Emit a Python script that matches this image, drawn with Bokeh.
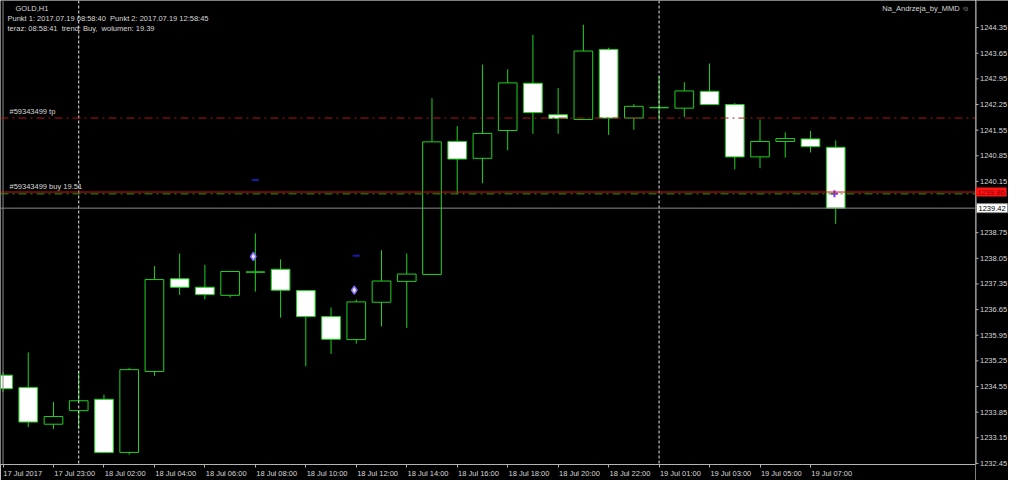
from bokeh.plotting import figure
from bokeh.layouts import row
from bokeh.models import (ColumnDataSource, LinearAxis, FixedTicker, Range1d, Span, Label)
from bokeh.core.properties import value
from bokeh.embed import file_html
from bokeh.resources import INLINE

# ---------------- data ----------------
bar_times = ["17 Jul 21:00", "17 Jul 22:00", "17 Jul 23:00",
             "18 Jul 01:00", "18 Jul 02:00", "18 Jul 03:00", "18 Jul 04:00", "18 Jul 05:00",
             "18 Jul 06:00", "18 Jul 07:00", "18 Jul 08:00", "18 Jul 09:00", "18 Jul 10:00",
             "18 Jul 11:00", "18 Jul 12:00", "18 Jul 13:00", "18 Jul 14:00", "18 Jul 15:00",
             "18 Jul 16:00", "18 Jul 17:00", "18 Jul 18:00", "18 Jul 19:00", "18 Jul 20:00",
             "18 Jul 21:00", "18 Jul 22:00", "18 Jul 23:00",
             "19 Jul 01:00", "19 Jul 02:00", "19 Jul 03:00", "19 Jul 04:00", "19 Jul 05:00",
             "19 Jul 06:00", "19 Jul 07:00", "19 Jul 08:00"]
opens = [1234.86, 1234.52, 1233.52, 1233.89, 1234.20, 1232.75, 1234.96, 1237.49, 1237.26,
         1237.04, 1237.67, 1237.75, 1237.17, 1236.46, 1235.83, 1236.85, 1237.42, 1237.61,
         1241.24, 1240.78, 1241.54, 1242.83, 1241.97, 1241.84, 1243.75, 1241.88, 1242.16,
         1242.15, 1242.61, 1242.25, 1240.82, 1241.24, 1241.31, 1241.08]
highs = [1234.95, 1235.48, 1234.13, 1234.97, 1234.33, 1235.06, 1237.84, 1238.18, 1237.87,
         1237.70, 1238.73, 1238.02, 1237.18, 1236.71, 1236.92, 1238.27, 1238.18, 1242.42,
         1241.66, 1243.34, 1243.21, 1244.15, 1242.70, 1244.43, 1243.80, 1242.26, 1243.02,
         1242.86, 1243.37, 1242.29, 1241.84, 1241.49, 1241.53, 1241.27]
lows = [1234.40, 1233.44, 1233.39, 1233.39, 1232.74, 1232.69, 1234.84, 1237.05, 1236.93,
        1236.98, 1237.14, 1236.43, 1235.10, 1235.44, 1235.72, 1236.19, 1236.15, 1237.60,
        1239.81, 1240.10, 1241.00, 1241.45, 1241.45, 1241.83, 1241.42, 1241.56, 1241.82,
        1241.91, 1242.24, 1240.48, 1240.51, 1240.80, 1240.94, 1238.99]
closes = [1234.49, 1233.58, 1233.73, 1234.16, 1232.75, 1235.01, 1237.47, 1237.26, 1237.06,
          1237.69, 1237.68, 1237.18, 1236.46, 1235.84, 1236.86, 1237.43, 1237.62, 1241.23,
          1240.76, 1241.46, 1242.84, 1242.03, 1241.87, 1243.71, 1241.88, 1242.20, 1242.17,
          1242.62, 1242.25, 1240.82, 1241.24, 1241.32, 1241.10, 1239.42]

x_tick_bars = [0, 2, 4, 6, 8, 10, 12, 14, 16, 18, 20, 22, 24, 26, 28, 30, 32]
x_tick_labels = ["17 Jul 2017", "17 Jul 23:00", "18 Jul 02:00", "18 Jul 04:00", "18 Jul 06:00",
                 "18 Jul 08:00", "18 Jul 10:00", "18 Jul 12:00", "18 Jul 14:00", "18 Jul 16:00",
                 "18 Jul 18:00", "18 Jul 20:00", "18 Jul 22:00", "19 Jul 01:00", "19 Jul 03:00",
                 "19 Jul 05:00", "19 Jul 07:00"]
y_ticks = [1232.45, 1233.15, 1233.85, 1234.55, 1235.25, 1235.95, 1236.65, 1237.35, 1238.05,
           1238.75, 1240.15, 1240.85, 1241.55, 1242.25, 1242.95, 1243.65, 1244.35]
day_separator_bars = [3, 26]

ask_price = 1239.86
bid_price = 1239.42
order_open = 1239.81
order_tp = 1241.88
order_label_tp = "#59343499 tp"
order_label_buy = "#59343499 buy 19.51"

dash_bars = [10, 14]
dash_prices = [1240.19, 1238.12]
diamond_bars = [10, 14]
diamond_prices = [1238.10, 1237.18]
plus_bars = [33]
plus_prices = [1239.81]

NB = "\u00a0"
header_lines = ["GOLD,H1",
                "Punkt 1: 2017.07.19 08:58:40" + NB + NB + "Punkt 2: 2017.07.19 12:58:45",
                "teraz: 08:58:41" + NB + NB + "trend: Buy," + NB + NB + "wolumen: 19.39"]
corner_text = "Na_Andrzeja_by_MMD \u263a"

# ---------------- style ----------------
GREEN = "#1ed21e"
FONT = "Liberation Sans"
FS = "7.5px"
TXT = "#d8d8d8"
AX = "#b4b4b4"
W, H = 1008, 480
SCALE_W = 33          # width of the price scale strip
BB = 16               # height of the time scale
FW, FH = W - SCALE_W, H - BB

X_START, X_END = -0.1, 38.54
Y_START, Y_END = 1232.42, 1245.09
units_per_px = (Y_END - Y_START) / FH

idx = list(range(len(opens)))
bull = [c >= o for o, c in zip(opens, closes)]
src = ColumnDataSource(dict(
    x=idx, o=opens, h=highs, l=lows, c=closes, t=bar_times,
    top=[max(o, c) for o, c in zip(opens, closes)],
    bot=[min(o, c) for o, c in zip(opens, closes)],
    fill=["#000000" if b else "#ffffff" for b in bull],
))

p = figure(frame_width=FW, frame_height=FH, x_range=(X_START, X_END),
           y_range=Range1d(Y_START, Y_END),
           output_backend="svg", toolbar_location=None,
           x_axis_location=None, y_axis_location=None,
           min_border_left=0, min_border_top=0, min_border_right=0, min_border_bottom=BB,
           background_fill_color="#000000", border_fill_color="#000000")
p.outline_line_color = None
p.grid.visible = False

# period separators
for b in day_separator_bars:
    p.add_layout(Span(location=b, dimension="height", line_color="#e6e6e6",
                      line_dash="3 2", line_width=1))

# left border
p.add_layout(Span(location=X_START + 0.1, dimension="height", line_color="#8c8c8c", line_width=1))

# price lines
p.add_layout(Span(location=order_tp, dimension="width", line_color="#b01414",
                  line_dash="8 4 2 4", line_width=1))
p.add_layout(Span(location=ask_price, dimension="width", line_color="#e01010", line_width=1))
p.add_layout(Span(location=order_open, dimension="width", line_color="#1ea01e",
                  line_dash="8 4 2 4", line_width=1))
p.add_layout(Span(location=bid_price, dimension="width", line_color="#8a8a8a", line_width=1))

# candles
p.segment(x0="x", y0="l", x1="x", y1="h", source=src, line_color=GREEN, line_width=1)
p.vbar(x="x", width=0.74, top="top", bottom="bot", source=src,
       fill_color="fill", line_color=GREEN, line_width=1)

# markers
p.scatter(x=dash_bars, y=dash_prices, marker="dash", size=7, line_color="#1a1aa8", line_width=2)
p.scatter(x=[b - 0.08 for b in diamond_bars], y=diamond_prices, marker="diamond", size=8,
          fill_color="#ececff", line_color="#8a6cff", line_width=1.5)
p.scatter(x=[b - 0.05 for b in plus_bars], y=plus_prices, marker="cross", size=7,
          line_color="#9a20ff", line_width=2)

# order labels
p.add_layout(Label(x=X_START, y=order_tp, x_offset=9, y_offset=2, text=order_label_tp,
                   text_font=FONT, text_font_size=FS, text_color=TXT, text_baseline="bottom"))
p.add_layout(Label(x=X_START, y=ask_price, x_offset=9, y_offset=1, text=order_label_buy,
                   text_font=FONT, text_font_size=FS, text_color=TXT, text_baseline="bottom"))

# header texts
hdr_offsets = [(15, -8), (7, -18), (7, -28)]
for txt, (dx, dy) in zip(header_lines, hdr_offsets):
    p.add_layout(Label(x=X_START, y=Y_END, x_offset=dx, y_offset=dy, text=txt,
                       text_font=FONT, text_font_size=FS, text_color=TXT, text_baseline="middle"))
p.add_layout(Label(x=X_END, y=Y_END, x_offset=-6, y_offset=-8, text=corner_text,
                   text_font=FONT, text_font_size=FS, text_color=TXT, text_baseline="middle",
                   text_align="right"))

# bottom time axis: tick marks at bars (no labels)
xax_ticks = LinearAxis(ticker=FixedTicker(ticks=x_tick_bars), major_tick_out=3, major_tick_in=0,
                       minor_tick_out=0, minor_tick_in=0, major_tick_line_color=AX,
                       axis_line_color=AX, major_label_standoff=0,
                       major_label_overrides={b: "" for b in x_tick_bars})
p.add_layout(xax_ticks, "below")

# bottom time axis: labels starting just right of the tick
px_per_bar = FW / (X_END - X_START)
label_pos = [b + (len(s) * 3.3 / 2 + 1.5) / px_per_bar for b, s in zip(x_tick_bars, x_tick_labels)]
xax_labels = LinearAxis(ticker=FixedTicker(ticks=label_pos),
                        major_label_overrides={lp: s for lp, s in zip(label_pos, x_tick_labels)},
                        major_tick_out=0, major_tick_in=0, minor_tick_out=0, minor_tick_in=0,
                        major_tick_line_color=None, axis_line_color=None,
                        major_label_standoff=1, major_label_text_font=FONT,
                        major_label_text_font_size=FS, major_label_text_color=TXT)
p.add_layout(xax_labels, "below")

# ---------------- price scale strip (same price-per-pixel scale, full height) ----------------
s = figure(frame_width=SCALE_W, frame_height=H, x_range=(0, SCALE_W),
           y_range=Range1d(Y_START - BB * units_per_px, Y_END),
           output_backend="svg", toolbar_location=None,
           x_axis_location=None, y_axis_location=None,
           min_border_left=0, min_border_top=0, min_border_right=0, min_border_bottom=0,
           background_fill_color="#000000", border_fill_color="#000000")
s.outline_line_color = None
s.grid.visible = False

s.segment(x0=[0.5], y0=[Y_START], x1=[0.5], y1=[Y_END], line_color=AX, line_width=1)
s.segment(x0=[0] * len(y_ticks), y0=y_ticks, x1=[3] * len(y_ticks), y1=y_ticks,
          line_color=AX, line_width=1)
s.text(x=[4.5] * len(y_ticks), y=y_ticks, text=["%.2f" % v for v in y_ticks],
       text_font=value(FONT), text_font_size=FS, text_color=TXT,
       text_baseline="middle", text_align="left")

# ask / bid price tags
s.add_layout(Label(x=0, y=ask_price, text="%.2f" % ask_price, x_offset=0,
                   text_font=FONT, text_font_size=FS, text_color="#8c0000",
                   text_baseline="middle", background_fill_color="#ff1414", padding=2))
s.add_layout(Label(x=1, y=bid_price, text="%.2f" % bid_price,
                   text_font=FONT, text_font_size=FS, text_color="#000000",
                   text_baseline="middle", background_fill_color="#ffffff",
                   border_line_color="#8a8a8a", padding=2))

layout = row(p, s, spacing=0)
open("out.html", "w").write(file_html(layout, INLINE))
